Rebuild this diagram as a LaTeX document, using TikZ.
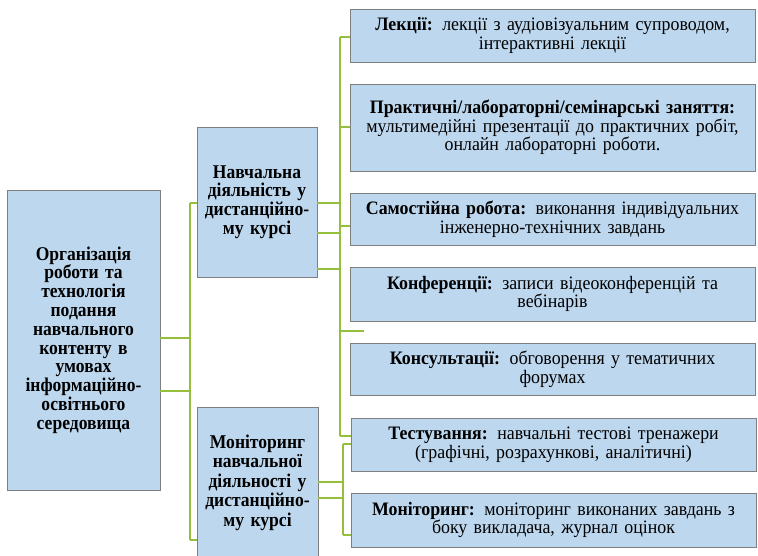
\documentclass[tikz,border=0pt]{standalone}
\usepackage{fontspec}
\setmainfont{Liberation Serif}
\newfontfamily\itemfont[FakeStretch=0.94]{Liberation Serif}
\newfontfamily\headfont[FakeStretch=0.9]{Liberation Serif}
\definecolor{boxfill}{HTML}{BDD7EE}
\definecolor{boxline}{HTML}{7F7F7F}
\definecolor{conncol}{HTML}{95BE3C}
\tikzset{
  box/.style={draw=boxline, line width=0.8pt, fill=boxfill, align=center, inner sep=2pt},
  bigbox/.style={box, font=\headfont\fontsize{19.5}{18.8}\selectfont\bfseries},
  itembox/.style={box, font=\itemfont\fontsize{19}{18.6}\selectfont, minimum width=405pt, text width=401pt},
  conn/.style={draw=conncol, line width=1.3pt}
}
\begin{document}
\begin{tikzpicture}[x=1pt,y=-1pt]
\useasboundingbox (0,0) rectangle (758,555);
\clip (0,0) rectangle (758,555);
\fill[white] (0,0) rectangle (758,555);
% main boxes
\node[bigbox, minimum width=153pt, minimum height=300pt, text width=149pt] (L) at (83.5,340)
  {Організація\\ роботи та\\ технологія\\ подання\\ навчального\\ контенту в\\ умовах\\ інформаційно-\\ освітнього\\ середовища};
\node[bigbox, minimum width=118pt, minimum height=150pt, text width=116pt] (N) at (257,202)
  {Навчальна\\ діяльність у\\ дистанційно-\\ му курсі};
\node[bigbox, minimum width=119pt, minimum height=151pt, text width=117pt, font=\headfont\fontsize{19.5}{19.5}\selectfont\bfseries] (M) at (257.5,482.5)
  {Моніторинг\\ навчальної\\ діяльності у\\ дистанційно-\\ му курсі};
% item boxes
\node[itembox, minimum height=53pt] (R1) at (552.5,35.5)
  {\textbf{Лекції:} лекції з аудіовізуальним супроводом,\\ інтерактивні лекції};
\node[itembox, minimum height=87pt] (R2) at (552.5,127.5)
  {\textbf{Практичні/лабораторні/семінарські заняття:}\\ мультимедійні презентації до практичних робіт,\\ онлайн лабораторні роботи.};
\node[itembox, minimum height=52pt] (R3) at (552.5,219)
  {\textbf{Самостійна робота:} виконання індивідуальних\\ інженерно-технічних завдань};
\node[itembox, minimum height=54pt] (R4) at (552.5,294)
  {\textbf{Конференції:} записи відеоконференцій та\\ вебінарів};
\node[itembox, minimum height=52pt] (R5) at (552.5,369)
  {\textbf{Консультації:} обговорення у тематичних\\ форумах};
\node[itembox, minimum width=403pt, minimum height=53pt] (R6) at (553.5,444.5)
  {\textbf{Тестування:} навчальні тестові тренажери\\ (графічні, розрахункові, аналітичні)};
\node[itembox, minimum width=403pt, minimum height=54pt] (R7) at (553.5,520)
  {\textbf{Моніторинг:} моніторинг виконаних завдань з\\ боку викладача, журнал оцінок};
% connectors: left trunk
\coordinate (a1) at (190,203);
\coordinate (a2) at (190,540);
\coordinate (a3) at (190,338);
\coordinate (a4) at (190,391);
\draw[conn] (a1) -- (a2);
\draw[conn] (a1) -- (a1 -| N.west);
\draw[conn] (a2) -- (a2 -| M.west);
\draw[conn] (a3 -| L.east) -- (a3);
\draw[conn] (a4 -| L.east) -- (a4);
% connectors: upper trunk
\coordinate (b1) at (340,37);
\coordinate (b2) at (340,436);
\coordinate (b3) at (340,127);
\coordinate (b4) at (340,226);
\coordinate (b5) at (340,331);
\coordinate (b5e) at (364,331);
\coordinate (n1) at (340,203);
\coordinate (n2) at (340,233);
\coordinate (n3) at (340,269);
\draw[conn] (b1) -- (b2);
\draw[conn] (b1) -- (b1 -| R1.west);
\draw[conn] (b3) -- (b3 -| R2.west);
\draw[conn] (b4) -- (b4 -| R3.west);
\draw[conn] (b5) -- (b5e);
\draw[conn] (b2) -- (b2 -| R6.west);
\draw[conn] (n1 -| N.east) -- (n1);
\draw[conn] (n2 -| N.east) -- (n2);
\draw[conn] (n3 -| N.east) -- (n3);
% connectors: lower trunk
\coordinate (c1) at (343,444);
\coordinate (c2) at (343,535);
\coordinate (m1) at (343,482);
\coordinate (m2) at (343,498);
\draw[conn] (c1) -- (c2);
\draw[conn] (c1) -- (c1 -| R6.west);
\draw[conn] (c2) -- (c2 -| R7.west);
\draw[conn] (m1 -| M.east) -- (m1);
\draw[conn] (m2 -| M.east) -- (m2);
\end{tikzpicture}
\end{document}
